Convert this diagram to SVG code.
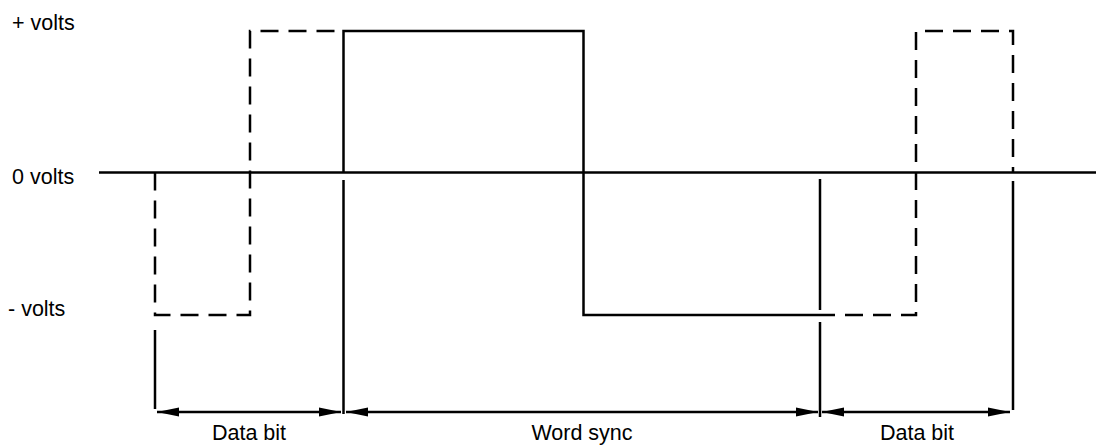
<svg xmlns="http://www.w3.org/2000/svg" width="1096" height="445" viewBox="0 0 1096 445">
<style>
.s{fill:none;stroke:#000;stroke-width:2.5}
.d{fill:none;stroke:#000;stroke-width:2.5;stroke-dasharray:18 10}
text{font-family:"Liberation Sans",Arial,sans-serif;font-size:21.5px;fill:#000}
.c{text-anchor:middle}
</style>
<defs>
<marker id="ah" viewBox="0 0 22 10" refX="22" refY="5" markerWidth="22" markerHeight="10" markerUnits="userSpaceOnUse" orient="auto-start-reverse">
<path d="M0,0.5 L22,5 L0,9.5 Z" fill="#000"/>
</marker>
</defs>
<g id="labels">
<text x="12" y="30">+ volts</text>
<text x="12" y="184">0 volts</text>
<text x="8" y="316">- volts</text>
</g>
<g id="axis">
<line class="s" x1="99" y1="172.5" x2="1096" y2="172.5"/>
</g>
<g id="word-sync">
<polyline class="s" points="343.5,172.5 343.5,31 583.5,31 583.5,315 835,315"/>
</g>
<g id="data-bit-1">
<path class="d" d="M155,172.5 V315 H250 V31 H336"/>
</g>
<g id="data-bit-2">
<path class="d" d="M845,315 H916 V31 H1013 V172.5"/>
</g>
<g id="connectors">
<line class="s" x1="155" y1="330" x2="155" y2="409"/>
<line class="s" x1="343.5" y1="180" x2="343.5" y2="414"/>
<line class="s" x1="820" y1="179" x2="820" y2="310"/>
<line class="s" x1="820" y1="322" x2="820" y2="417"/>
<line class="s" x1="1013" y1="181" x2="1013" y2="410"/>
<line class="s" x1="157" y1="412" x2="341" y2="412" marker-start="url(#ah)" marker-end="url(#ah)"/>
<line class="s" x1="346" y1="412" x2="818" y2="412" marker-start="url(#ah)" marker-end="url(#ah)"/>
<line class="s" x1="822" y1="412" x2="1010" y2="412" marker-start="url(#ah)" marker-end="url(#ah)"/>
</g>
<g id="spans">
<text class="c" x="249" y="439.5">Data bit</text>
<text class="c" x="582" y="439.5">Word sync</text>
<text class="c" x="917" y="439.5">Data bit</text>
</g>
</svg>
